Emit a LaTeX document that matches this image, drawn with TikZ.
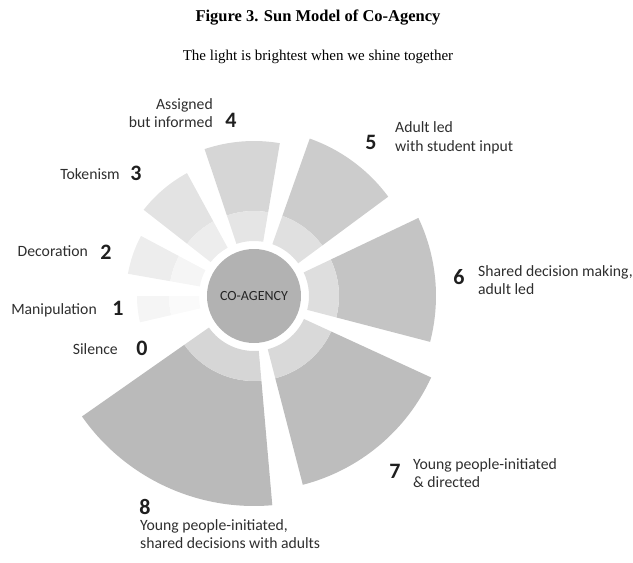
\documentclass[tikz,border=0pt]{standalone}
\usepackage{fontspec}
\newfontfamily\labelfont{Carlito}
\newfontfamily\titlefont{Liberation Serif}
\begin{document}
\begin{tikzpicture}[x=1pt,y=1pt,
  lbl/.style={font=\labelfont\fontsize{15.7}{18.5}\selectfont,text=black!82,inner sep=0pt},
  num/.style={font=\labelfont\bfseries\fontsize{22}{22}\selectfont,text=black!88,inner sep=0pt},
  core/.style={circle,fill=black!30,minimum size=94,inner sep=0pt,
    font=\labelfont\fontsize{14}{14}\selectfont,text=black!85}]
  \useasboundingbox (-254,-267) rectangle (379,296);
  % Title and subtitle.
  \node[font=\titlefont\bfseries\fontsize{16.5}{18}\selectfont] (title) at (64,278) {Figure 3. Sun Model of Co-Agency};
  \node[font=\titlefont\fontsize{15}{16}\selectfont] (subtitle) at (64,239) {The light is brightest when we shine together};
  % The rays of the sun, levels 1 to 8 (level 0 is left blank).
  \foreach \a/\b/\r/\ci/\co in {
      180/193/117/black!2/black!4,
      152/170/128/black!4/black!7,
      118.6/142/140/black!7/black!11,
      80.4/108.6/155/black!10/black!16,
      36.5/70.5/167/black!12/black!20,
      -14.6/25.4/182/black!13/black!23,
      -75.5/-24.7/195/black!15/black!26,
      215/275/210/black!16/black!27}{
    \fill[\co] (\a:85) arc[start angle=\a,end angle=\b,radius=85]
      -- (\b:\r) arc[start angle=\b,end angle=\a,radius=\r] -- cycle;
    \fill[\ci] (\a:55) arc[start angle=\a,end angle=\b,radius=55]
      -- (\b:85) arc[start angle=\b,end angle=\a,radius=85] -- cycle;
  }
  \node[core] (coag) at (0,0) {CO-AGENCY};
  % Levels on the left.
  \node[lbl,anchor=east] (l0) at (-136,-53) {Silence};
  \node[num] (n0) at (-112,-52) {0};
  \node[lbl,anchor=east] (l1) at (-157,-14) {Manipulation};
  \node[num] (n1) at (-136,-12) {1};
  \node[lbl,anchor=east] (l2) at (-166,45) {Decoration};
  \node[num] (n2) at (-148,44) {2};
  \node[lbl,anchor=east] (l3) at (-134,122) {Tokenism};
  \node[num] (n3) at (-118,123) {3};
  \node[lbl,anchor=east,align=right] (l4) at (-41,183) {Assigned\\but informed};
  \node[num] (n4) at (-23,176) {4};
  % Levels on the right and below.
  \node[num] (n5) at (117,154) {5};
  \node[lbl,anchor=west,align=left] (l5) at (141,158) {Adult led\\with student input};
  \node[num] (n6) at (205,19) {6};
  \node[lbl,anchor=west,align=left] (l6) at (224,16) {Shared decision making,\\adult led};
  \node[num] (n7) at (141,-175) {7};
  \node[lbl,anchor=west,align=left] (l7) at (159,-177) {Young people-initiated\\\& directed};
  \node[num] (n8) at (-109,-211) {8};
  \node[lbl,anchor=west,align=left] (l8) at (-114,-238) {Young people-initiated,\\shared decisions with adults};
\end{tikzpicture}
\end{document}
